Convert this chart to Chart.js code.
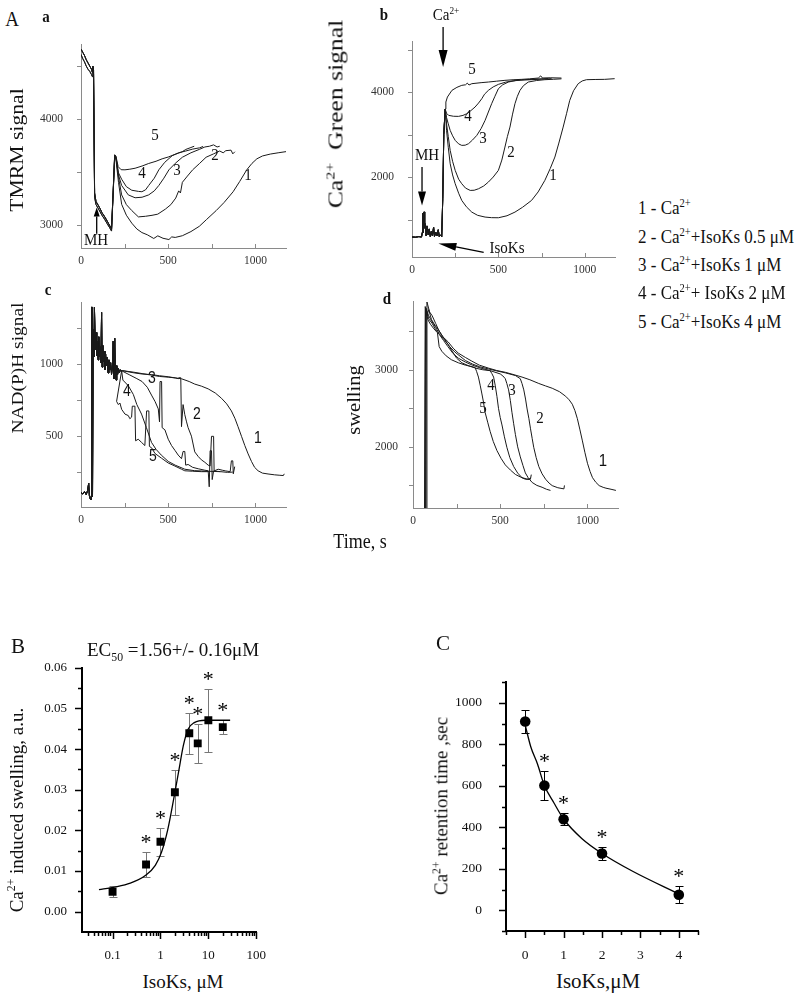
<!DOCTYPE html>
<html>
<head>
<meta charset="utf-8">
<script src="https://cdn.jsdelivr.net/npm/chart.js@4.4.1/dist/chart.umd.min.js"></script>
<style>
  body { margin: 0; background: #fff; }
  #page { position: relative; width: 800px; height: 997px; overflow: hidden;
          font-family: 'Liberation Serif', 'Times New Roman', serif; color: #111; }
  canvas { position: absolute; }
  .t { position: absolute; white-space: nowrap; line-height: 1; transform: translate(-50%, -50%) scale(1, 1.12); }
  .l { position: absolute; white-space: nowrap; line-height: 1; transform: translate(0, -50%) scale(1, 1.12); transform-origin: left center; }
  .r { position: absolute; white-space: nowrap; line-height: 1; transform: translate(-50%, -50%) rotate(-90deg) scale(1.14, 1); }
  .sans { font-family: 'Liberation Sans', Arial, sans-serif; }
  .sup { font-size: 0.62em; vertical-align: 0.62em; }
  .sub { font-size: 0.62em; vertical-align: -0.4em; }
  b { font-weight: bold; }
</style>
</head>
<body>
<div id="page">
  <canvas id="cA"></canvas>
  <canvas id="cB"></canvas>
  <canvas id="cC"></canvas>
  <canvas id="cD"></canvas>
  <canvas id="cSw"></canvas>
  <canvas id="cRet"></canvas>

  <!-- panel letters -->
  <div class="t" style="left:12px;top:19px;font-size:19px;">A</div>
  <div class="t" style="left:46px;top:17px;font-size:15px;"><b>a</b></div>
  <div class="t" style="left:384px;top:15px;font-size:15px;"><b>b</b></div>
  <div class="t" style="left:48px;top:290px;font-size:15px;"><b>c</b></div>
  <div class="t" style="left:387px;top:299px;font-size:15px;"><b>d</b></div>

  <!-- axis titles, top block -->
  <div class="r" style="left:16px;top:150px;font-size:19px;">TMRM signal</div>
  <div class="r" style="left:335px;top:114px;font-size:21px;transform:translate(-50%,-50%) rotate(-90deg) scale(1.22,1);">Ca<span class="sup">2+</span>&nbsp; Green signal</div>
  <div class="r" style="left:17px;top:368px;font-size:17px;">NAD(P)H signal</div>
  <div class="r" style="left:354px;top:400px;font-size:18px;">swelling</div>
  <div class="t" style="left:360px;top:541px;font-size:18px;">Time, s</div>

  <!-- panel a annotations -->
  <div class="t" style="left:155px;top:135px;font-size:15px;">5</div>
  <div class="t" style="left:142px;top:173px;font-size:15px;">4</div>
  <div class="t" style="left:177px;top:170px;font-size:15px;">3</div>
  <div class="t" style="left:215px;top:155px;font-size:15px;">2</div>
  <div class="t" style="left:248px;top:175px;font-size:15px;">1</div>
  <div class="t" style="left:96px;top:240px;font-size:15px;">MH</div>

  <!-- panel b annotations -->
  <div class="t" style="left:446px;top:15px;font-size:15px;">Ca<span class="sup">2+</span></div>
  <div class="t" style="left:472px;top:69px;font-size:15px;">5</div>
  <div class="t" style="left:468px;top:116px;font-size:15px;">4</div>
  <div class="t" style="left:483px;top:138px;font-size:15px;">3</div>
  <div class="t" style="left:511px;top:152px;font-size:15px;">2</div>
  <div class="t" style="left:553px;top:175px;font-size:15px;">1</div>
  <div class="t" style="left:427px;top:155px;font-size:15px;">MH</div>
  <div class="t" style="left:507px;top:248px;font-size:15px;">IsoKs</div>

  <!-- panel c annotations -->
  <div class="t sans" style="left:152px;top:377px;font-size:14px;">3</div>
  <div class="t sans" style="left:127px;top:390px;font-size:14px;">4</div>
  <div class="t sans" style="left:197px;top:413px;font-size:14px;">2</div>
  <div class="t sans" style="left:153px;top:455px;font-size:14px;">5</div>
  <div class="t sans" style="left:258px;top:437px;font-size:14px;">1</div>

  <!-- panel d annotations -->
  <div class="t" style="left:491px;top:385px;font-size:15px;">4</div>
  <div class="t" style="left:512px;top:390px;font-size:15px;">3</div>
  <div class="t" style="left:483px;top:408px;font-size:15px;">5</div>
  <div class="t" style="left:540px;top:418px;font-size:15px;">2</div>
  <div class="t sans" style="left:603px;top:460px;font-size:15px;">1</div>

  <!-- legend of the traces -->
  <div class="l" style="left:638px;top:208px;font-size:17px;">1 - Ca<span class="sup">2+</span></div>
  <div class="l" style="left:638px;top:237px;font-size:17px;">2 - Ca<span class="sup">2+</span>+IsoKs 0.5 &mu;M</div>
  <div class="l" style="left:638px;top:265px;font-size:17px;">3 - Ca<span class="sup">2+</span>+IsoKs 1 &mu;M</div>
  <div class="l" style="left:638px;top:293px;font-size:17px;">4 - Ca<span class="sup">2+</span>+ IsoKs 2 &mu;M</div>
  <div class="l" style="left:638px;top:322px;font-size:17px;">5 - Ca<span class="sup">2+</span>+IsoKs 4 &mu;M</div>

  <!-- panel B texts -->
  <div class="t" style="left:18px;top:646px;font-size:21px;transform:translate(-50%,-50%);">B</div>
  <div class="l" style="left:87px;top:652px;font-size:19px;transform:translate(0,-50%);">EC<span class="sub">50</span> =1.56+/- 0.16&mu;M</div>
  <div class="r" style="left:16px;top:810px;font-size:19px;transform:translate(-50%,-50%) rotate(-90deg);">Ca<span class="sup">2+</span> induced swelling, a.u.</div>
  <div class="t" style="left:183px;top:981px;font-size:19px;transform:translate(-50%,-50%);">IsoKs, &mu;M</div>

  <!-- panel C texts -->
  <div class="t" style="left:443px;top:643px;font-size:21px;transform:translate(-50%,-50%);">C</div>
  <div class="r" style="left:441px;top:806px;font-size:19px;transform:translate(-50%,-50%) rotate(-90deg);">Ca<span class="sup">2+</span> retention time ,sec</div>
  <div class="t" style="left:598px;top:981px;font-size:21px;transform:translate(-50%,-50%);">IsoKs,&mu;M</div>
</div>

<script>
// ---------------------------
// Panel a - TMRM signal, [time s, signal]
const tmrmStartA = [[0,4660],[10,4630],[20,4600],[30,4560],[40,4530],[50,4500],[60,4470],[65,4440],[68,4500],[72,4460],[78,3300],[86,3220],[100,3180],[110,3150],[120,3115],[136,3075],[150,3035],[165,2990],[175,2960],[184,3300],[193,3660]];
const tmrmStartB = [[0,4610],[10,4570],[20,4540],[30,4500],[40,4470],[50,4450],[60,4420],[65,4400],[68,4470],[72,4420],[78,3260],[86,3190],[100,3150],[110,3120],[120,3090],[136,3050],[150,3010],[165,2970],[175,2940],[184,3280],[193,3640]];
const tmrm1 = [[200,3620],[215,3400],[233,3193],[260,3090],[291,3015],[320,2960],[349,2926],[380,2905],[417,2870],[440,2895],[470,2872],[504,2860],[520,2885],[540,2880],[581,2896],[630,2935],[678,2985],[720,3050],[775,3134],[820,3210],[872,3312],[910,3410],[950,3519],[980,3580],[1008,3623],[1040,3650],[1085,3668],[1130,3680],[1175,3691]];
const tmrm2 = [[200,3630],[215,3450],[233,3282],[260,3190],[291,3134],[329,3074],[370,3080],[407,3089],[440,3100],[484,3148],[515,3190],[543,3252],[560,3320],[570,3300],[581,3401],[610,3460],[640,3519],[680,3580],[717,3638],[760,3670],[795,3697],[815,3680],[830,3700],[860,3705],[870,3670],[882,3690]];
const tmrm3 = [[200,3640],[215,3470],[233,3371],[271,3282],[310,3255],[350,3260],[388,3282],[420,3320],[446,3371],[475,3440],[504,3519],[540,3580],[581,3638],[630,3680],[678,3712],[710,3735],[736,3742],[760,3755],[780,3735],[795,3742]];
const tmrm4 = [[200,3645],[215,3490],[233,3430],[260,3360],[291,3326],[330,3315],[349,3312],[370,3330],[388,3371],[420,3440],[446,3519],[480,3590],[523,3653],[560,3680],[601,3697],[640,3715],[680,3727],[700,3740]];
const tmrm5 = [[200,3650],[213,3549],[230,3520],[252,3519],[280,3525],[310,3534],[350,3555],[388,3579],[430,3600],[465,3623],[500,3640],[543,3668],[580,3690],[601,3712],[630,3730],[649,3742]];

// Panel b - Ca2+ Green signal
const caStart = [[0,590],[20,585],[40,600],[55,590],[60,700],[63,1150],[66,700],[70,1180],[73,800],[78,900],[82,620],[88,850],[94,640],[100,780],[106,600],[112,720],[118,620],[125,820],[130,600],[138,700],[145,620],[152,760],[158,600],[165,640],[172,600],[178,1500],[184,3000],[192,3600]];
const ca1 = [[200,3100],[210,2700],[221,2314],[235,2050],[250,1843],[270,1620],[288,1451],[315,1300],[346,1176],[380,1100],[423,1059],[460,1045],[500,1043],[550,1090],[596,1176],[640,1290],[692,1451],[730,1650],[769,1922],[800,2200],[827,2471],[850,2800],[875,3176],[895,3500],[913,3804],[935,4030],[962,4196],[985,4260],[1010,4290],[1060,4295],[1115,4298],[1173,4314]];
const ca2 = [[200,3250],[210,2950],[221,2627],[235,2370],[250,2157],[270,1950],[288,1843],[310,1740],[337,1686],[360,1690],[385,1725],[415,1790],[442,1882],[470,2000],[500,2157],[520,2400],[538,2706],[552,2950],[567,3176],[582,3480],[596,3725],[610,3900],[625,4039],[645,4150],[673,4235],[720,4270],[769,4290],[820,4300],[865,4310]];
const ca3 = [[200,3400],[210,3250],[221,3098],[235,2970],[250,2863],[270,2780],[288,2745],[308,2750],[327,2784],[350,2870],[375,2980],[400,3140],[423,3333],[442,3530],[461,3725],[480,3900],[500,4078],[525,4170],[558,4235],[600,4270],[650,4290],[700,4300],[760,4310],[788,4315]];
const ca4 = [[200,3500],[212,3451],[240,3430],[269,3427],[295,3450],[317,3490],[340,3560],[365,3647],[385,3740],[404,3843],[420,3950],[442,4039],[470,4120],[500,4180],[540,4230],[577,4259],[630,4280],[692,4290],[750,4305],[808,4314]];
const ca5 = [[196,3765],[205,3882],[231,4039],[260,4110],[288,4157],[310,4170],[320,4210],[330,4165],[346,4196],[400,4220],[442,4235],[490,4255],[538,4275],[590,4290],[635,4298],[680,4310],[731,4329],[745,4380],[755,4330],[800,4335],[865,4329]];

// Panel c - NAD(P)H signal
const nadStart = [[0,110],[10,100],[20,118],[30,96],[38,125],[44,175],[48,90],[52,70],[56,60],[60,90],[61,1395],[64,1395],[66,80],[70,1240],[74,1050],[77,1395],[80,1395],[82,1100],[86,1220],[90,1060],[94,1160],[98,1030],[102,1190],[106,1050],[110,1120],[114,1010],[118,1360],[121,980],[125,1130],[129,1020],[133,1090],[137,960],[141,1070],[145,990],[150,1050],[155,940],[160,1030],[165,960],[170,1010],[175,930],[180,980],[185,1160],[189,900],[193,1180],[197,950],[201,890],[205,990],[210,930],[215,970],[220,940],[225,960],[233,955]];
const nad1 = [[240,955],[280,945],[309,939],[350,932],[404,928],[450,920],[500,913],[540,905],[576,899],[620,880],[652,862],[690,848],[729,829],[770,800],[805,764],[835,725],[862,676],[882,625],[900,567],[920,500],[939,436],[958,378],[977,326],[995,285],[1015,261],[1040,245],[1072,239],[1110,233],[1140,230],[1160,228],[1165,240]];
const nad2 = [[240,955],[300,945],[350,935],[400,925],[450,915],[500,910],[540,905],[557,900],[560,906],[572,906],[576,567],[585,720],[595,650],[605,600],[614,560],[633,501],[652,392],[672,360],[690,337],[710,320],[729,300],[740,294],[748,500],[760,500],[763,260],[786,272],[810,265],[830,260],[855,255],[862,330],[870,330],[873,240],[881,290]];
const nad3 = [[240,950],[280,925],[320,900],[350,880],[380,840],[404,786],[425,740],[443,690],[450,600],[453,880],[462,880],[465,560],[481,545],[500,480],[519,436],[540,400],[557,370],[576,345],[585,395],[595,395],[600,300],[614,305],[640,285],[672,275],[710,265],[729,261],[735,150],[740,400],[748,400],[752,200],[760,260],[800,255],[840,250],[870,252]];
const nad4 = [[240,890],[271,851],[300,790],[320,720],[347,654],[375,560],[404,458],[430,410],[460,370],[500,326],[540,300],[595,272],[650,262],[720,258],[800,255]];
const nad5 = [[204,742],[214,720],[223,731],[233,687],[252,654],[271,644],[280,622],[290,633],[294,709],[309,709],[313,469],[328,480],[347,458],[366,436],[376,676],[389,676],[392,430],[405,420],[424,381],[462,348],[500,315],[538,294],[576,272],[595,261],[640,258],[690,255],[729,255]];

// Panel d - swelling
const swell1 = [[68,1100],[72,3800],[80,3700],[90,3780],[106,3650],[125,3580],[144,3526],[170,3430],[202,3360],[230,3280],[260,3215],[300,3160],[337,3112],[380,3060],[433,3021],[480,2990],[529,2967],[580,2935],[625,2905],[670,2870],[721,2822],[760,2790],[798,2760],[840,2715],[875,2656],[895,2610],[913,2553],[928,2470],[942,2366],[957,2220],[971,2077],[985,1930],[1000,1787],[1015,1680],[1029,1600],[1048,1540],[1067,1497],[1090,1475],[1106,1464],[1135,1450],[1163,1435]];
const swell2 = [[75,1100],[80,3880],[95,3750],[110,3700],[130,3600],[150,3500],[180,3400],[210,3300],[240,3230],[270,3175],[300,3120],[340,3075],[380,3040],[433,3010],[480,2985],[529,2960],[587,2925],[615,2884],[625,2820],[635,2739],[645,2620],[654,2491],[664,2370],[673,2242],[683,2110],[692,1994],[706,1860],[721,1745],[740,1650],[760,1580],[780,1530],[798,1497],[830,1470],[865,1455],[868,1500]];
const swell3 = [[70,1100],[74,3800],[90,3660],[110,3600],[130,3520],[150,3460],[175,3380],[200,3300],[230,3210],[260,3150],[300,3100],[340,3060],[390,3020],[440,2990],[500,2946],[515,2920],[529,2884],[538,2820],[548,2739],[558,2600],[567,2449],[577,2300],[587,2159],[600,2000],[615,1870],[630,1760],[644,1662],[660,1600],[683,1538],[710,1500],[740,1476],[765,1450],[788,1435]];
const swell4 = [[72,1100],[76,3780],[90,3700],[110,3620],[130,3550],[150,3470],[175,3400],[200,3330],[225,3240],[250,3150],[280,3090],[320,3050],[360,3020],[400,3000],[442,2988],[452,2950],[462,2905],[471,2800],[481,2656],[490,2500],[500,2380],[510,2284],[524,2130],[538,1994],[555,1860],[577,1745],[600,1660],[625,1600],[650,1585],[673,1580],[678,1640]];
const swell5 = [[66,1100],[70,3820],[85,3650],[100,3590],[120,3530],[140,3480],[150,3300],[165,3240],[190,3180],[220,3130],[260,3090],[300,3060],[330,3045],[356,3029],[365,2975],[375,2905],[385,2800],[394,2698],[404,2580],[413,2449],[428,2320],[442,2201],[460,2070],[481,1952],[505,1850],[529,1766],[558,1700],[587,1642],[615,1610],[644,1580],[665,1578],[673,1600]];

// tick values shared by the four time panels
const timeTicks = [0, 500, 1000];
const timeLabels = ['0', '500', '1000'];
const timeMinor = [250, 750];

// ---------------------------
// Panel B - Ca2+ induced swelling vs IsoKs
const isoB = [0.1, 0.5, 1, 2, 4, 6, 10, 20];
const swellB = [0.0049, 0.0116, 0.0172, 0.0294, 0.0439, 0.0414, 0.0471, 0.0454];
const swellErrB = [0.0014, 0.0031, 0.0034, 0.0055, 0.0050, 0.0048, 0.0078, 0.0017];
const starB = [false, true, true, true, true, true, true, true];
const fitXB = [0.052, 0.103, 0.235, 0.50, 0.78, 1.05, 1.42, 1.92, 2.40, 3.01, 3.77, 5.09, 8.6, 28.5];
const fitYB = [0.0054, 0.0060, 0.0070, 0.0090, 0.0114, 0.0146, 0.0202, 0.0282, 0.0345, 0.0409, 0.0449, 0.0465, 0.0471, 0.0471];
const bTicksX = [0.1, 1, 10, 100];
const bLabelsX = ['0.1', '1', '10', '100'];
const bTicksY = [0, 0.01, 0.02, 0.03, 0.04, 0.05, 0.06];
const bLabelsY = ['0.00', '0.01', '0.02', '0.03', '0.04', '0.05', '0.06'];

// Panel C - Ca2+ retention time vs IsoKs
const isoC = [0, 0.5, 1, 2, 4];
const retC = [910, 601, 439, 274, 75];
const retErrC = [55, 68, 30, 30, 40];
const starC = [false, true, true, true, true];
const fitXC = [0, 0.147, 0.32, 0.5, 0.75, 1.0, 1.48, 2.0, 2.81, 4.0];
const fitYC = [892, 787, 705, 601, 517, 440, 345, 274, 187, 79];
const cTicksX = [0, 1, 2, 3, 4];
const cLabelsX = ['0', '1', '2', '3', '4'];
const cTicksY = [0, 200, 400, 600, 800, 1000];
const cLabelsY = ['0', '200', '400', '600', '800', '1000'];

// ---------------------------
Chart.defaults.font.family = "'Liberation Serif', 'Times New Roman', serif";
Chart.defaults.color = '#222';

function pts(arr) { return arr.map(p => ({ x: p[0], y: p[1] })); }
function zipXY(xs, ys) { return xs.map((x, i) => ({ x: x, y: ys[i] })); }

function trace(arr, color) {
  return { data: pts(arr), showLine: true, pointRadius: 0, borderColor: color || '#1a1a1a', borderWidth: 1, tension: 0 };
}

// small tick marks drawn through the chart's own scales
function tickPlugin(m) {
  return {
    id: 'tickMarks',
    afterDraw(chart) {
      const ctx = chart.ctx, a = chart.chartArea;
      ctx.save();
      ctx.strokeStyle = m.color;
      ctx.lineWidth = m.width;
      ['x', 'y'].forEach(id => {
        const o = m[id], s = chart.scales[id];
        [[o.major, o.majorLen], [o.minor || [], o.minorLen]].forEach(([vals, len]) => {
          vals.forEach(v => {
            const p = Math.round(s.getPixelForValue(v)) + 0.5;
            ctx.beginPath();
            if (id === 'x') {
              ctx.moveTo(p, a.bottom);
              ctx.lineTo(p, a.bottom + (o.inward ? -len : len));
            } else {
              ctx.moveTo(a.left, p);
              ctx.lineTo(a.left - len, p);
            }
            ctx.stroke();
          });
        });
      });
      ctx.restore();
    }
  };
}

// arrows given in data units
function arrowPlugin(list) {
  return {
    id: 'arrows',
    afterDraw(chart) {
      const ctx = chart.ctx, xs = chart.scales.x, ys = chart.scales.y;
      ctx.save();
      ctx.strokeStyle = '#000';
      ctx.fillStyle = '#000';
      ctx.lineWidth = 1.3;
      list.forEach(ar => {
        const x0 = xs.getPixelForValue(ar.x0), y0 = ys.getPixelForValue(ar.y0);
        const x1 = xs.getPixelForValue(ar.x1), y1 = ys.getPixelForValue(ar.y1);
        const ang = Math.atan2(y1 - y0, x1 - x0);
        const bx = x1 - ar.head * Math.cos(ang), by = y1 - ar.head * Math.sin(ang);
        ctx.beginPath(); ctx.moveTo(x0, y0); ctx.lineTo(bx, by); ctx.stroke();
        const nx = -Math.sin(ang) * ar.half, ny = Math.cos(ang) * ar.half;
        ctx.beginPath();
        ctx.moveTo(x1, y1); ctx.lineTo(bx + nx, by + ny); ctx.lineTo(bx - nx, by - ny);
        ctx.closePath(); ctx.fill();
      });
      ctx.restore();
    }
  };
}

// error bars under the markers, asterisks above them
function errPlugin(xs0, ys0, errs, stars, color) {
  return {
    id: 'errBars',
    beforeDatasetsDraw(chart) {
      const ctx = chart.ctx, sx = chart.scales.x, sy = chart.scales.y;
      ctx.save();
      ctx.strokeStyle = color;
      ctx.lineWidth = 1;
      xs0.forEach((xv, i) => {
        const x = Math.round(sx.getPixelForValue(xv)) + 0.5;
        const yt = Math.round(sy.getPixelForValue(ys0[i] + errs[i])) + 0.5;
        const yb = Math.round(sy.getPixelForValue(ys0[i] - errs[i])) + 0.5;
        ctx.beginPath();
        ctx.moveTo(x, yt); ctx.lineTo(x, yb);
        ctx.moveTo(x - 4, yt); ctx.lineTo(x + 4, yt);
        ctx.moveTo(x - 4, yb); ctx.lineTo(x + 4, yb);
        ctx.stroke();
      });
      ctx.restore();
    },
    afterDatasetsDraw(chart) {
      const ctx = chart.ctx, sx = chart.scales.x, sy = chart.scales.y;
      ctx.save();
      ctx.fillStyle = '#000';
      ctx.font = "22px 'Liberation Serif'";
      ctx.textAlign = 'center';
      ctx.textBaseline = 'alphabetic';
      xs0.forEach((xv, i) => {
        if (!stars[i]) return;
        const x = sx.getPixelForValue(xv);
        const yt = sy.getPixelForValue(ys0[i] + errs[i]);
        ctx.fillText('*', x, yt - 14 + 11);
      });
      ctx.restore();
    }
  };
}

// canvas box + plot area (page pixels) -> fixed axis sizes
function panel(id, box, area, cfg) {
  const cv = document.getElementById(id);
  cv.width = box.w; cv.height = box.h;
  cv.style.left = box.left + 'px';
  cv.style.top = box.top + 'px';
  const yW = area.l - box.left, xH = box.top + box.h - area.b;
  const scale = (ax, isX) => ({
    type: ax.type || 'linear',
    min: ax.min, max: ax.max, bounds: 'data',
    afterBuildTicks: s => { s.ticks = ax.ticks.map(v => ({ value: v })); },
    afterFit: s => { if (isX) s.height = xH; else s.width = yW; },
    grid: { display: false, drawTicks: false },
    border: { display: true, color: cfg.axisColor, width: cfg.axisWidth },
    ticks: { autoSkip: false, maxRotation: 0, padding: ax.pad, color: cfg.labelColor,
             font: { size: cfg.fontSize }, callback: (v, i) => ax.labels[i] }
  });
  const plugins = [tickPlugin(cfg.marks)];
  if (cfg.arrows) plugins.push(arrowPlugin(cfg.arrows));
  if (cfg.err) plugins.push(cfg.err);
  return new Chart(cv, {
    type: 'scatter',
    data: { datasets: cfg.datasets },
    plugins: plugins,
    options: {
      responsive: false, animation: false, events: [],
      layout: { padding: { top: area.t - box.top, right: box.left + box.w - area.r, left: 0, bottom: 0 } },
      plugins: { legend: { display: false }, tooltip: { enabled: false } },
      scales: { x: scale(cfg.x, true), y: scale(cfg.y, false) }
    }
  });
}

const grayAxis = { axisColor: '#8a8a8a', axisWidth: 1, labelColor: '#333', fontSize: 11.5 };
const timeMarks = (yMajor, yMinor) => ({
  color: '#8a8a8a', width: 1,
  x: { major: timeTicks, minor: timeMinor, majorLen: 4, minorLen: 4, inward: true },
  y: { major: yMajor, minor: yMinor, majorLen: 4, minorLen: 4 }
});

// a
panel('cA', { left: 25, top: 20, w: 275, h: 255 }, { l: 81, t: 33, r: 286, b: 248 }, Object.assign({
  datasets: [trace(tmrmStartA.concat(tmrm1)), trace(tmrmStartB.concat(tmrm2)), trace(tmrmStartA.concat(tmrm3)),
             trace(tmrmStartB.concat(tmrm4)), trace(tmrmStartA.concat(tmrm5))],
  x: { min: 0, max: 1175, ticks: timeTicks, labels: timeLabels, pad: 6 },
  y: { min: 2780, max: 4700, ticks: [3000, 4000], labels: ['3000', '4000'], pad: 18 },
  marks: timeMarks([3000, 4000], [3500, 4500]),
  arrows: [{ x0: 90, y0: 2914, x1: 90, y1: 3163, head: 9, half: 3 }]
}, grayAxis));

// b
panel('cB', { left: 355, top: 0, w: 265, h: 285 }, { l: 412, t: 41, r: 615, b: 257 }, Object.assign({
  datasets: [trace(caStart.concat(ca1)), trace(caStart.concat(ca2)), trace(caStart.concat(ca3)),
             trace(caStart.concat(ca4)), trace(caStart.concat(ca5))],
  x: { min: 0, max: 1175, ticks: timeTicks, labels: timeLabels, pad: 6 },
  y: { min: 120, max: 5200, ticks: [2000, 4000], labels: ['2000', '4000'], pad: 18 },
  marks: timeMarks([2000, 4000], [1000, 3000, 5000]),
  arrows: [
    { x0: 180, y0: 5529, x1: 180, y1: 4588, head: 17, half: 4.5 },
    { x0: 58, y0: 2235, x1: 58, y1: 1334, head: 14, half: 4 },
    { x0: 415, y0: 228, x1: 153, y1: 440, head: 18, half: 4 }
  ]
}, grayAxis));

// c
panel('cC', { left: 25, top: 278, w: 275, h: 255 }, { l: 81, t: 291, r: 286, b: 507 }, Object.assign({
  datasets: [trace(nadStart.concat(nad1)), trace(nadStart.concat(nad2)), trace(nadStart.concat(nad3)),
             trace(nadStart.concat(nad4)), trace(nadStart.concat(nad5))],
  x: { min: 0, max: 1175, ticks: timeTicks, labels: timeLabels, pad: 6 },
  y: { min: 10, max: 1425, ticks: [500, 1000], labels: ['500', '1000'], pad: 18 },
  marks: timeMarks([500, 1000], [250, 750, 1250])
}, grayAxis));

// d
panel('cD', { left: 356, top: 280, w: 266, h: 255 }, { l: 413, t: 293, r: 618, b: 508 }, Object.assign({
  datasets: [trace(swell1), trace(swell2), trace(swell3), trace(swell4), trace(swell5)],
  x: { min: 0, max: 1175, ticks: timeTicks, labels: timeLabels, pad: 6 },
  y: { min: 1207, max: 3880, ticks: [2000, 3000], labels: ['2000', '3000'], pad: 15 },
  marks: timeMarks([2000, 3000], [1500, 2500, 3500])
}, grayAxis));

// B
const minorLogB = [];
[0.01, 0.1, 1, 10].forEach(d => { for (let k = 2; k <= 9; k++) { const v = k * d; if (v > 0.023 && v < 100) minorLogB.push(v); } });
panel('cSw', { left: 20, top: 645, w: 262, h: 320 }, { l: 82, t: 660, r: 267, b: 932 }, {
  axisColor: '#000', axisWidth: 2, labelColor: '#111', fontSize: 13,
  datasets: [
    { data: zipXY(fitXB, fitYB), showLine: true, pointRadius: 0, borderColor: '#000', borderWidth: 1.3, cubicInterpolationMode: 'monotone' },
    { data: zipXY(isoB, swellB), showLine: false, pointStyle: 'rect', pointRadius: 5.6, backgroundColor: '#000', borderColor: '#000', borderWidth: 0 }
  ],
  x: { type: 'logarithmic', min: 0.023, max: 100, ticks: bTicksX, labels: bLabelsX, pad: 16 },
  y: { min: -0.005, max: 0.06, ticks: bTicksY, labels: bLabelsY, pad: 15 },
  marks: { color: '#000', width: 1.5,
           x: { major: bTicksX, minor: minorLogB, majorLen: 7, minorLen: 4 },
           y: { major: bTicksY, minor: [0.005, 0.015, 0.025, 0.035, 0.045, 0.055], majorLen: 7, minorLen: 4 } },
  err: errPlugin(isoB, swellB, swellErrB, starB, '#777')
});

// C
panel('cRet', { left: 440, top: 650, w: 275, h: 315 }, { l: 506, t: 664, r: 698, b: 931 }, {
  axisColor: '#000', axisWidth: 2, labelColor: '#111', fontSize: 13.5,
  datasets: [
    { data: zipXY(fitXC, fitYC), showLine: true, pointRadius: 0, borderColor: '#000', borderWidth: 1.3, cubicInterpolationMode: 'monotone' },
    { data: zipXY(isoC, retC), showLine: false, pointStyle: 'circle', pointRadius: 5.3, backgroundColor: '#000', borderColor: '#000', borderWidth: 0 }
  ],
  x: { min: -0.5, max: 4.5, ticks: cTicksX, labels: cLabelsX, pad: 16 },
  y: { min: -100, max: 1100, ticks: cTicksY, labels: cLabelsY, pad: 24 },
  marks: { color: '#000', width: 1.5,
           x: { major: cTicksX, minor: [-0.5, 0.5, 1.5, 2.5, 3.5, 4.5], majorLen: 7, minorLen: 4 },
           y: { major: cTicksY, minor: [-100, 100, 300, 500, 700, 900, 1100], majorLen: 7, minorLen: 4 } },
  err: errPlugin(isoC, retC, retErrC, starC, '#000')
});
</script>
</body>
</html>
